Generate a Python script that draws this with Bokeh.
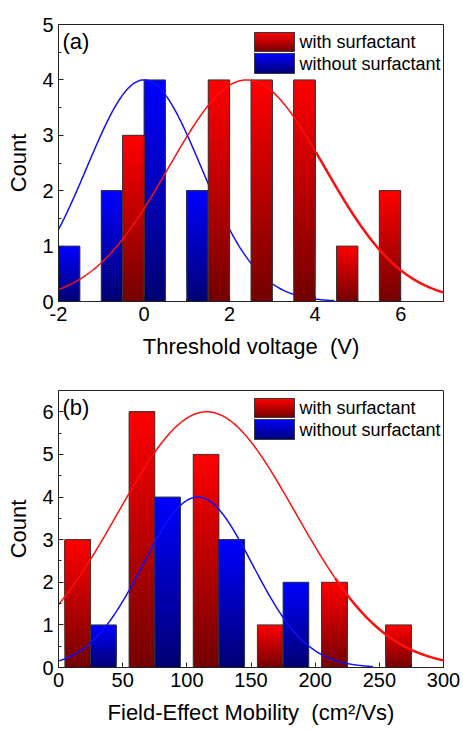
import numpy as np
from bokeh.plotting import figure
from bokeh.layouts import column
from bokeh.models import Range1d, FixedTicker, Label
from bokeh.embed import file_html
from bokeh.resources import INLINE

# ---------------- data: panel (a) threshold voltage ----------------
vt_bin_width = 0.5
vt_with_left = [-0.5, 1.5, 2.5, 3.5, 4.5, 5.5]
vt_with_count = [3, 4, 4, 4, 1, 2]
vt_without_left = [-2.0, -1.0, 0.0, 1.0]
vt_without_count = [1, 2, 4, 2]
# Gaussian fits (amplitude, centre, sigma, x-start, x-end)
vt_with_fit = (4.0, 2.4, 1.82, -2.0, 7.0)
vt_without_fit = (4.0, 0.0, 1.334, -2.0, 4.45)

# ---------------- data: panel (b) mobility ----------------
mu_bin_width = 20
mu_with_left = [5, 55, 105, 155, 205, 255]
mu_with_count = [3, 6, 5, 1, 2, 1]
mu_without_left = [25, 75, 125, 175]
mu_without_count = [1, 4, 3, 2]
mu_with_fit = (6.0, 115.5, 69.0, 0.0, 300.0)
mu_without_fit = (4.0, 108.5, 42.5, 0.0, 245.0)

vt_xticks = [-2, 0, 2, 4, 6]
vt_yticks = [0, 1, 2, 3, 4, 5]
mu_xticks = [0, 50, 100, 150, 200, 250, 300]
mu_yticks = [0, 1, 2, 3, 4, 5, 6]

series_names = ["with surfactant", "without surfactant"]

FONT = "Liberation Sans"
W, H = 463, 365
BL, BR = 58, 20
FW = W - BL - BR  # 385
FH = 277

RED_TOP = np.array([255, 0, 0])
RED_BOT = np.array([115, 0, 0])
BLUE_TOP = np.array([0, 0, 255])
BLUE_BOT = np.array([0, 0, 115])
NSLICE = 30


def hexcol(c):
    c = np.clip(np.round(c), 0, 255).astype(int)
    return "#%02x%02x%02x" % tuple(c)


def gradient_quads(p, lefts, rights, bottoms, tops, ctop, cbot):
    # each slice spans from its own lower edge to the bar top; drawn bottom-up
    L, R, B, T, C = [], [], [], [], []
    for k in range(NSLICE):
        f0 = k / NSLICE
        fm = (k + 0.5) / NSLICE
        for l, r, b, t in zip(lefts, rights, bottoms, tops):
            B.append(b + (t - b) * f0)
            T.append(t)
            L.append(l)
            R.append(r)
            C.append(hexcol(cbot + (ctop - cbot) * fm))
    p.quad(left=L, right=R, bottom=B, top=T, fill_color=C, line_color=None)
    p.quad(left=lefts, right=rights, bottom=bottoms, top=tops, fill_color=None,
           line_color="#3a3a3a", line_width=1)


def bars(p, lefts, counts, width, ctop, cbot):
    lefts = list(lefts)
    rights = [l + width for l in lefts]
    gradient_quads(p, lefts, rights, [0] * len(lefts), list(counts), ctop, cbot)


def gauss_line(p, fit, color, width, thick_from=None):
    a, c, s, x0, x1 = fit
    x = np.linspace(x0, x1, 300)
    y = a * np.exp(-((x - c) ** 2) / (2 * s * s))
    p.line(x, y, line_color=color, line_width=width)
    if thick_from is not None:
        m = x >= thick_from
        p.line(x[m], y[m], line_color=color, line_width=width + 1.0)


def make_panel(xr, yr, xticks, yticks, xlabel, top_border, bottom_border):
    p = figure(width=W, height=H, output_backend="svg", toolbar_location=None,
               x_range=Range1d(*xr), y_range=Range1d(*yr),
               min_border_left=BL, min_border_right=BR,
               min_border_top=top_border, min_border_bottom=bottom_border)
    p.grid.visible = False
    p.outline_line_color = "#222222"
    p.outline_line_width = 1
    p.background_fill_color = "white"
    p.border_fill_color = "white"
    xminor = [(a + b) / 2 for a, b in zip(xticks[:-1], xticks[1:])]
    yminor = [(a + b) / 2 for a, b in zip(yticks[:-1], yticks[1:])]
    p.xaxis.ticker = FixedTicker(ticks=xticks, minor_ticks=xminor)
    p.yaxis.ticker = FixedTicker(ticks=yticks, minor_ticks=yminor)
    p.xaxis.major_label_overrides = {t: str(t) for t in xticks}
    p.yaxis.major_label_overrides = {t: str(t) for t in yticks}
    for ax in (p.xaxis[0], p.yaxis[0]):
        ax.axis_line_color = "#222222"
        ax.major_tick_in = 5
        ax.major_tick_out = 0
        ax.minor_tick_in = 3
        ax.minor_tick_out = 0
        ax.major_tick_line_color = "#222222"
        ax.minor_tick_line_color = "#222222"
        ax.major_label_text_font = FONT
        ax.major_label_text_font_size = "20px"
        ax.major_label_text_color = "black"
        ax.axis_label_text_font = FONT
        ax.axis_label_text_font_size = "22px"
        ax.axis_label_text_font_style = "normal"
        ax.axis_label_text_color = "black"
    p.xaxis.axis_label = xlabel
    p.yaxis.axis_label = "Count"
    p.xaxis.major_label_standoff = 5
    p.xaxis.axis_label_standoff = 10
    p.yaxis.major_label_standoff = 5
    p.yaxis.axis_label_standoff = 8
    return p


def legend_and_tag(p, xr, yr, tag):
    def X(px):
        return xr[0] + px / FW * (xr[1] - xr[0])

    def Y(px):
        return yr[1] - px / FH * (yr[1] - yr[0])

    # swatches (pixel offsets within the frame)
    gradient_quads(p, [X(196)], [X(236)], [Y(27)], [Y(8)], RED_TOP, RED_BOT)
    gradient_quads(p, [X(196)], [X(236)], [Y(49)], [Y(29)], BLUE_TOP, BLUE_BOT)
    p.add_layout(Label(x=X(241), y=Y(17.5), text=series_names[0], text_font=FONT,
                       text_font_size="18px", text_baseline="middle", text_color="black"))
    p.add_layout(Label(x=X(241), y=Y(39), text=series_names[1], text_font=FONT,
                       text_font_size="18px", text_baseline="middle", text_color="black"))
    p.add_layout(Label(x=X(4), y=Y(4), text=tag, text_font=FONT,
                       text_font_size="22px", text_baseline="top", text_color="black"))


# ---------------- panel (a) ----------------
xa, ya = (-2, 7), (0, 5)
pa = make_panel(xa, ya, vt_xticks, vt_yticks, "Threshold voltage\u00a0\u00a0(V)", 24, 64)
bars(pa, vt_without_left, vt_without_count, vt_bin_width, BLUE_TOP, BLUE_BOT)
gauss_line(pa, vt_without_fit, "#1010ff", 1.5)
bars(pa, vt_with_left, vt_with_count, vt_bin_width, RED_TOP, RED_BOT)
gauss_line(pa, vt_with_fit, "#ff1010", 1.5, thick_from=4.0)
legend_and_tag(pa, xa, ya, "(a)")

# ---------------- panel (b) ----------------
xb, yb = (0, 300), (0, 6.5)
pb = make_panel(xb, yb, mu_xticks, mu_yticks, "Field-Effect Mobility\u00a0\u00a0(cm\u00b2/Vs)", 25, 63)
bars(pb, mu_with_left, mu_with_count, mu_bin_width, RED_TOP, RED_BOT)
bars(pb, mu_without_left, mu_without_count, mu_bin_width, BLUE_TOP, BLUE_BOT)
gauss_line(pb, mu_with_fit, "#ff1010", 1.5, thick_from=215)
gauss_line(pb, mu_without_fit, "#1010ff", 1.5)
legend_and_tag(pb, xb, yb, "(b)")

layout = column(pa, pb, spacing=0)
open("out.html", "w").write(file_html(layout, INLINE))
